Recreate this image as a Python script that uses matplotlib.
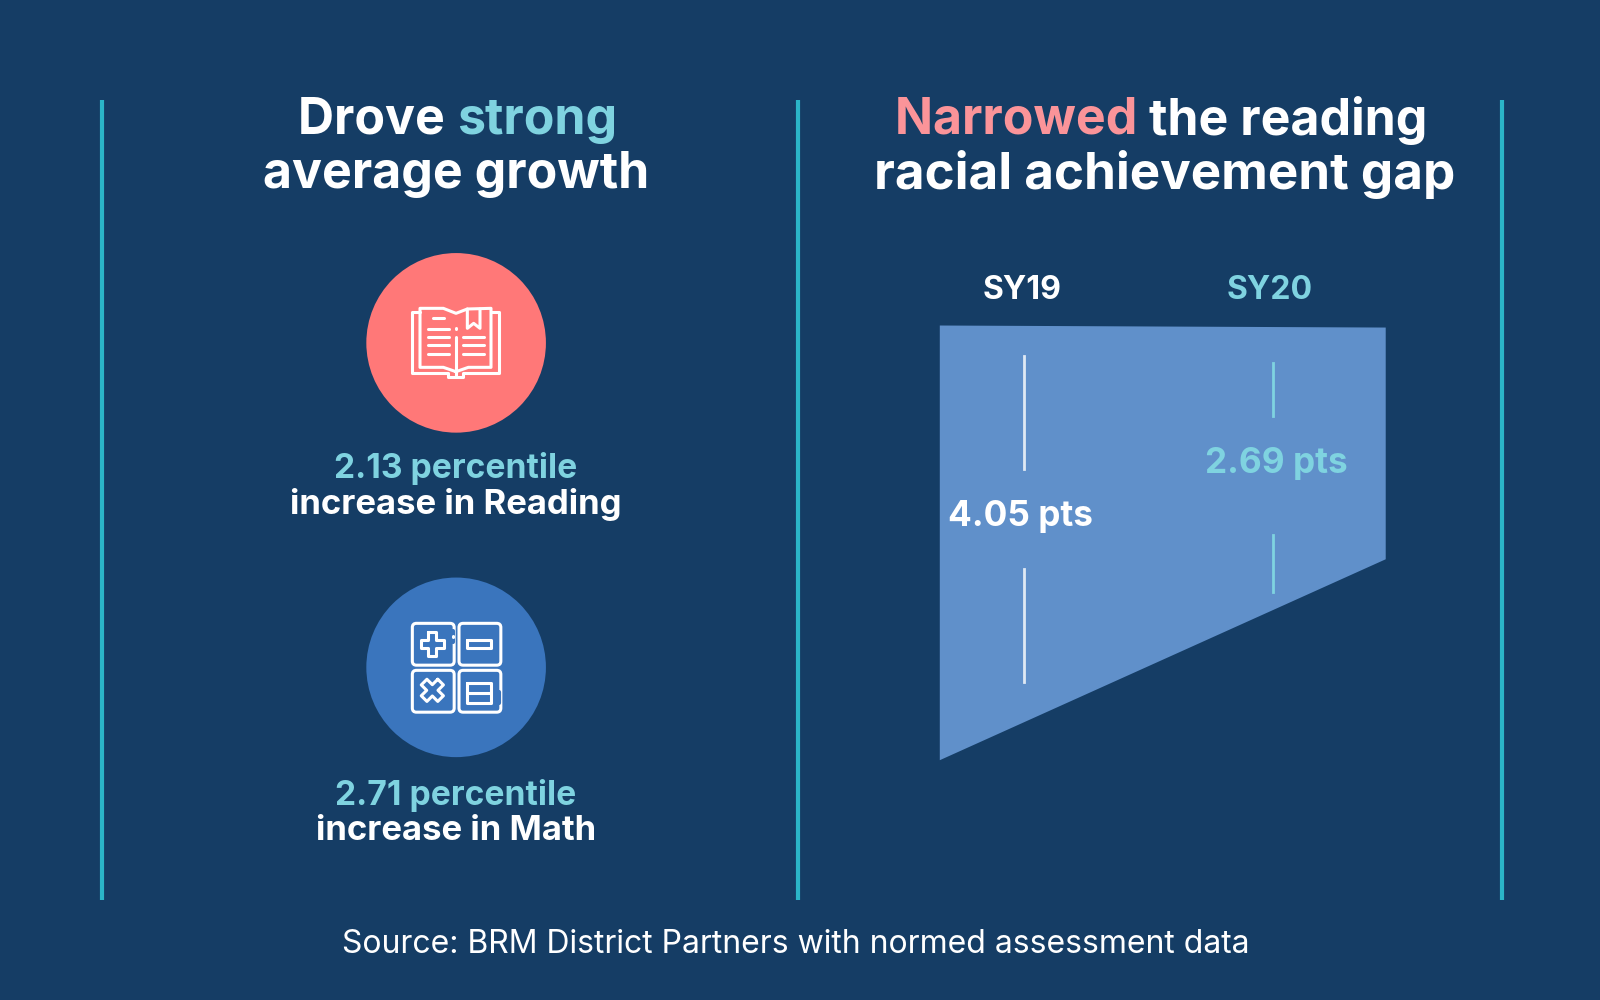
import matplotlib
matplotlib.use("Agg")
import matplotlib.pyplot as plt
from matplotlib.patches import Circle, Polygon, FancyBboxPatch

BG = "#153d65"
TEAL = "#2bb5c8"
LIGHT = "#7fd3e0"
CORAL = "#ff7878"
PINK = "#fb9499"
BLUE = "#3a75bd"
GAP = "#6090ca"

years = ["SY19", "SY20"]
gap_pts = [4.05, 2.69]
growth_pct = [2.13, 2.71]
subjects = ["Reading", "Math"]

plt.rcParams["font.family"] = ["Inter", "DejaVu Sans"]

fig = plt.figure(figsize=(16, 10), dpi=100, facecolor=BG)
# coordinates are pixels of the reference as seen at 1568x980
ax = fig.add_axes([0, 0, 1, 1])
ax.set_xlim(0, 1568)
ax.set_ylim(980, 0)
ax.axis("off")


def put_text(x, y, s, color="white", size=30, weight="bold"):
    return ax.text(x, y, s, color=color, fontsize=size, fontweight=weight,
                   ha="center", va="center")


def two_part(y, x_left, a, col_a, b, col_b, size=36):
    # first piece then second piece right after it
    t = ax.text(x_left, y, a + " ", color=col_a, fontsize=size, fontweight="bold", ha="left", va="center")
    fig.canvas.draw()
    box = t.get_window_extent().transformed(ax.transData.inverted())
    ax.text(box.x1, y, b, color=col_b, fontsize=size, fontweight="bold", ha="left", va="center")


def bx(zx):
    return (380 + zx / 3) / 1.0204


def by(zy):
    return (280 + zy / 3) / 1.0204


def cy(zy):
    return (595 + zy / 3) / 1.0204


def icon_line(pts, conv, closed=False, color="white", lw=2.2):
    xs = [bx(p[0]) for p in pts]
    ys = [conv(p[1]) for p in pts]
    if closed:
        xs.append(xs[0])
        ys.append(ys[0])
    ax.plot(xs, ys, color=color, lw=lw, solid_capstyle="round", solid_joinstyle="round")


for x in [100, 782, 1472]:
    ax.plot([x, x], [98, 882], color=TEAL, lw=3, solid_capstyle="butt")

two_part(118, 292, "Drove", "white", "strong", LIGHT)
put_text(447, 171, "average growth", size=36)
two_part(118, 877, "Narrowed", PINK, "the reading", "white")
put_text(1141, 171, "racial achievement gap", size=36.8)

# icon circles
ax.add_patch(Circle((447, 336), 88, color=CORAL, lw=0))
ax.add_patch(Circle((447, 654), 88, color=BLUE, lw=0))

# book icon
icon_line([(120, 95), (95, 95), (95, 280), (205, 280), (205, 292), (250, 292), (250, 280), (358, 280), (358, 95), (333, 95)], by)
icon_line([(228, 275), (190, 262), (120, 262), (120, 85), (190, 85), (228, 100), (262, 87), (333, 85), (333, 262), (265, 262), (228, 275)], by)
icon_line([(228, 170), (228, 290)], by)
icon_line([(228, 145), (228, 146)], by)
icon_line([(262, 87), (262, 145), (281, 130), (300, 145), (300, 87)], by)
icon_line([(158, 113), (192, 113)], by)
for zy in [146, 171, 196, 222]:
    icon_line([(145, zy), (208, zy)], by)
for zy in [171, 196, 222]:
    icon_line([(250, zy), (312, zy)], by)

# calculator icon
for zx, zy in [(97, 85), (237, 85), (97, 226), (237, 226)]:
    ax.add_patch(FancyBboxPatch((bx(zx) + 4, cy(zy) + 4), 33, 33, boxstyle="round,pad=4,rounding_size=4",
                                fill=False, ec="white", lw=2.2))
icon_line([(218, 108), (218, 140)], cy, color=BLUE, lw=3)
icon_line([(218, 124), (218, 125)], cy)
icon_line([(358, 292), (358, 325)], cy, color=BLUE, lw=3)
icon_line([(358, 309), (358, 310)], cy)
plus = [(-12, -35), (12, -35), (12, -12), (35, -12), (35, 12), (12, 12), (12, 35), (-12, 35), (-12, 12), (-35, 12), (-35, -12), (-12, -12)]
icon_line([(157 + p[0], 147 + p[1]) for p in plus], cy, closed=True)
times = [(0.707 * (p[0] - p[1]), 0.707 * (p[0] + p[1])) for p in plus]
icon_line([(157 + p[0], 286 + p[1]) for p in times], cy, closed=True)
icon_line([(262, 136), (332, 136), (332, 160), (262, 160)], cy, closed=True)
icon_line([(262, 265), (332, 265), (332, 325), (262, 325)], cy, closed=True)
icon_line([(262, 295), (332, 295)], cy)

for i, (pct, sub) in enumerate(zip(growth_pct, subjects)):
    y0 = 459.5 + i * 320
    put_text(447, y0, f"{pct:.2f} percentile", color=LIGHT, size=24.2)
    put_text(447, y0 + 35, f"increase in {sub}", size=25)

# gap shape, the right side is drawn a bit shorter than its value in the reference
px_per_pt = (744 - 319) / gap_pts[0]
right_squeeze = 0.808
x_19, x_20 = 921, 1358
top = 320
ax.add_patch(Polygon([(x_19, top - 1), (x_20, top + 1),
                      (x_20, top + gap_pts[1] * px_per_pt * right_squeeze), (x_19, top + gap_pts[0] * px_per_pt)],
                     color=GAP, lw=0))

put_text(1002, 285, years[0], size=23)
put_text(1244, 285, years[1], color=LIGHT, size=23)
ax.plot([1004, 1004], [349, 460], color="#dfe9f4", lw=2)
ax.plot([1004, 1004], [558, 668], color="#dfe9f4", lw=2)
ax.plot([1248, 1248], [356, 408], color=LIGHT, lw=2)
ax.plot([1248, 1248], [524, 580], color=LIGHT, lw=2)
put_text(1000, 506, f"{gap_pts[0]:.2f} pts", size=25.3)
put_text(1251, 454, f"{gap_pts[1]:.2f} pts", color=LIGHT, size=25.3)

put_text(780, 926, "Source: BRM District Partners with normed assessment data", size=23, weight="normal")

fig.savefig("out.png", dpi=100, facecolor=BG)
